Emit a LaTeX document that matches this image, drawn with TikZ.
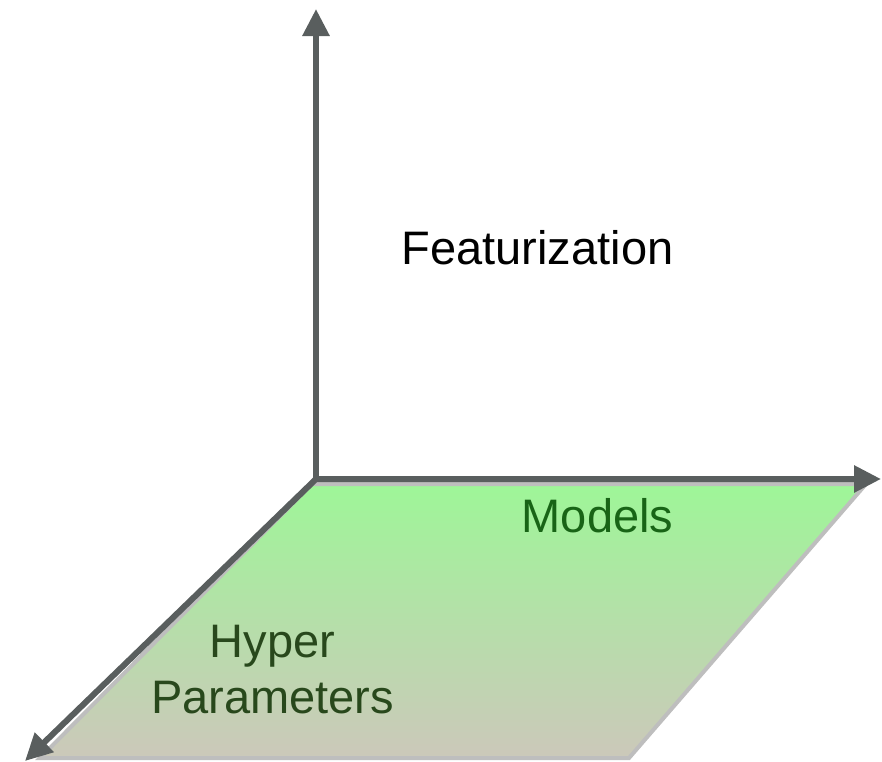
\documentclass[tikz,border=0pt]{standalone}
\usepackage{fontspec}
\setmainfont{Liberation Sans}
\usetikzlibrary{arrows.meta}

\definecolor{axisgray}{RGB}{89,94,94}
\definecolor{edgegray}{RGB}{190,190,190}
\definecolor{planetop}{RGB}{158,246,152}
\definecolor{planebottom}{RGB}{204,200,186}
\definecolor{modelgreen}{RGB}{24,100,22}
\definecolor{hypergreen}{RGB}{40,72,28}

\tikzset{
  axisline/.style={draw=axisgray, line width=6pt, line join=miter,
    -{Triangle[length=27pt, width=26pt]}},
  bothends/.style={draw=axisgray, line width=6pt, line join=miter,
    {Triangle[length=27pt, width=26pt]}-{Triangle[length=27pt, width=26pt]}},
  planeedge/.style={draw=edgegray, line width=4pt, line join=miter},
  label/.style={inner sep=0pt, anchor=base, font=\fontsize{47}{56}\selectfont},
}

\begin{document}
\begin{tikzpicture}[x=1pt, y=-1pt]
  \useasboundingbox (0,0) rectangle (882,761);

  % corners of the base plane
  \coordinate (p1) at (312,484);
  \coordinate (p2) at (866,484);
  \coordinate (p3) at (629,758);
  \coordinate (p4) at (40,758);

  % axis origin and tips
  \coordinate (origin) at (316,479);
  \coordinate (ytip) at (316,9);
  \coordinate (xtip) at (881,479);
  \coordinate (ztip) at (25,761);

  % shaded plane with its light border
  \shade[top color=planetop, bottom color=planebottom]
    (p1) -- (p2) -- (p3) -- (p4) -- cycle;
  \draw[planeedge] (p1) -- (p2) -- (p3) -- (p4) -- cycle;

  % axes
  \draw[axisline] (origin) -- (ytip);
  \draw[bothends] (ztip) -- (origin) -- (xtip);

  % labels
  \node[label, text=black] (feat) at (537.5,264) {Featurization};
  \node[label, text=modelgreen] (models) at (597.5,532) {Models};
  \node[label, text=hypergreen] (hyper) at (272.5,657) {Hyper};
  \node[label, text=hypergreen] (params) at (272.5,713) {Parameters};
\end{tikzpicture}
\end{document}
